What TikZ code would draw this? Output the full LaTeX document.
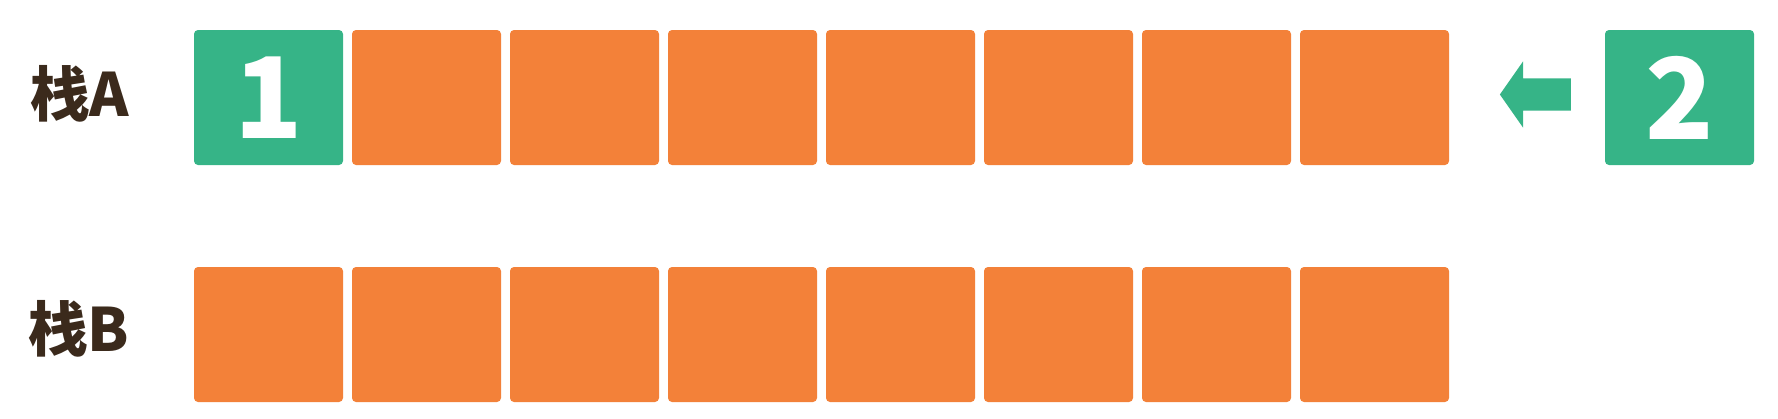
\documentclass[tikz,border=0pt]{standalone}
\usepackage{fontspec}
\newfontfamily\cjk{Noto Sans CJK SC}
\usetikzlibrary{positioning}
\usetikzlibrary{shapes.arrows}
\definecolor{gruen}{HTML}{36B487}
\definecolor{kastenorange}{HTML}{F38139}
\definecolor{braun}{HTML}{3B2A1C}
\tikzset{
  Kasten/.style={rectangle, fill=kastenorange, minimum width=1.49cm,
    minimum height=1.35cm, inner sep=0pt, outer sep=0pt,
    rounded corners=0.04cm}, % leere Felder
  Wert/.style={Kasten, fill=gruen, text=white,
    font={\cjk\bfseries\fontsize{32}{32}\selectfont}}, % Felder mit Zahl
  Name/.style={text=braun, inner sep=0pt,
    font={\cjk\bfseries\fontsize{17}{17}\selectfont}} % Stapelnamen
}

\begin{document}
\begin{tikzpicture}[>=latex]
\useasboundingbox (0,0) rectangle (17.78,4.18);

%Stapel A
\node[Wert] (A1) at (2.685,3.205) {1};
\foreach \i [remember=\i as \j (initially 1)] in {2,...,8}
  \node[Kasten, right=0.09cm of A\j] (A\i) {};
\node[Wert, right=1.56cm of A8] (neu) {2};

%Pfeil
\node[single arrow, shape border rotate=180, fill=gruen, inner sep=0pt,
  minimum height=0.71cm, minimum width=0.65cm, text height=0.31cm,
  single arrow head extend=0.17cm, single arrow tip angle=110,
  right=0.5cm of A8, yshift=0.03cm] (pfeil) {};

%Stapel B
\node[Kasten] (B1) at (2.685,0.835) {};
\foreach \i [remember=\i as \j (initially 1)] in {2,...,8}
  \node[Kasten, right=0.09cm of B\j] (B\i) {};

%Namen
\node[Name, left=0.64cm of A1, yshift=0.04cm] (nameA) {栈A};
\node[Name, left=0.64cm of B1, yshift=0.06cm] (nameB) {栈B};

\end{tikzpicture}
\end{document}
